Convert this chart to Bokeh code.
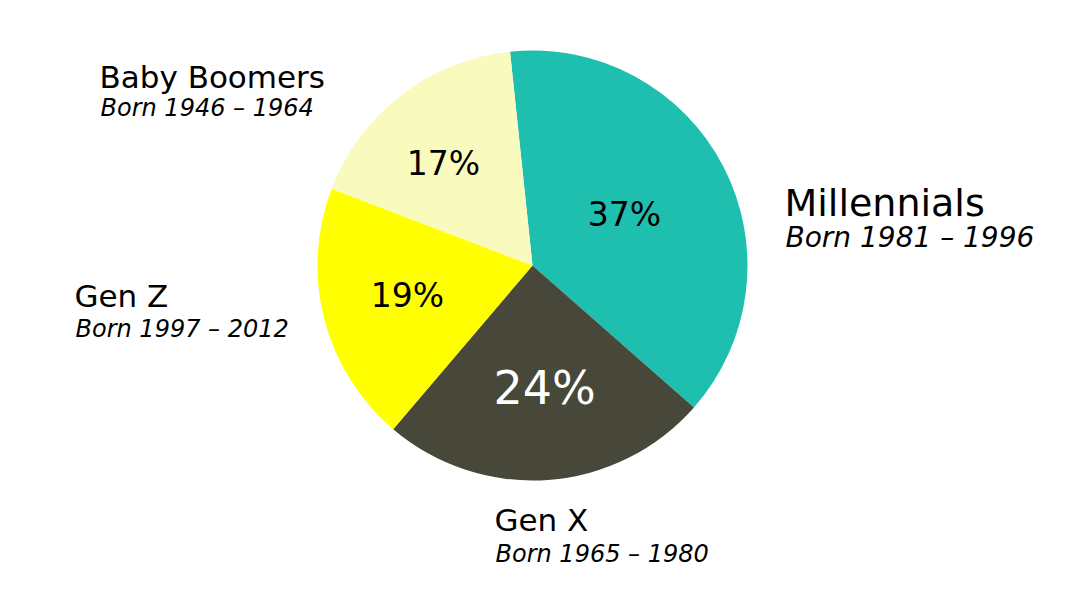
import math
from bokeh.plotting import figure
from bokeh.models import Range1d, ColumnDataSource
from bokeh.core.properties import value
from bokeh.embed import file_html
from bokeh.resources import INLINE

# Data
generations = ["Millennials", "Gen X", "Gen Z", "Baby Boomers"]
born = ["Born 1981 \u2013 1996", "Born 1965 \u2013 1980", "Born 1997 \u2013 2012", "Born 1946 \u2013 1964"]
shares = [37, 24, 19, 17]
colors = ["#1FBFB0", "#47473A", "#FFFF00", "#F9FBBE"]

W, H = 1064, 584
# data units == page pixels (x right, y = 600 - page_y)
p = figure(width=W, height=H, output_backend="svg", toolbar_location=None,
           x_range=Range1d(0, W), y_range=Range1d(600 - H, 600),
           min_border=0)
p.axis.visible = False
p.grid.visible = False
p.outline_line_color = None
p.background_fill_color = "white"

cx, cy, r = 532, 600 - 265, 215
start = math.radians(96.0)
total = sum(shares)
starts, ends = [], []
a = start
for s in shares:
    span = 2 * math.pi * s / total
    ends.append(a)
    starts.append(a - span)
    a -= span

src = ColumnDataSource(dict(start=starts, end=ends, color=colors))
p.wedge(x=cx, y=cy, radius=r, start_angle="start", end_angle="end",
        fill_color="color", line_color=None, source=src)

FONT = value("DejaVu Sans")
K = 0.38  # baseline correction as a fraction of font size


def ty(y, fs):
    return 600 - (y - K * fs)


# percent labels inside slices: (center x, baseline y, size, colour)
pct_pos = [(624, 227, 33, "black"), (544, 405, 46, "white"), (407, 308, 33, "black"), (443, 176, 33, "black")]
for s, (x, y, fs, c) in zip(shares, pct_pos):
    p.text(x=[x], y=[ty(y, fs)], text=[f"{s}%"], text_font=FONT, text_font_size=f"{fs}px",
           text_color=c, text_align="center", text_baseline="alphabetic")

# outside labels: (x, title baseline y, title size, sub baseline y, sub size)
lab_pos = [(784, 217, 38, 248, 28), (494, 531, 31, 563, 24), (74, 307, 31, 338, 24), (99, 88, 31, 117, 24)]
for g, b, (x, t_y, ts, sy, ss) in zip(generations, born, lab_pos):
    p.text(x=[x], y=[ty(t_y, ts)], text=[g], text_font=FONT, text_font_size=f"{ts}px",
           text_color="black", text_align="left", text_baseline="alphabetic")
    p.text(x=[x + 1], y=[ty(sy, ss)], text=[b], text_font=FONT, text_font_size=f"{ss}px",
           text_font_style="italic", text_color="black", text_align="left", text_baseline="alphabetic")

open("out.html", "w").write(file_html(p, INLINE))
